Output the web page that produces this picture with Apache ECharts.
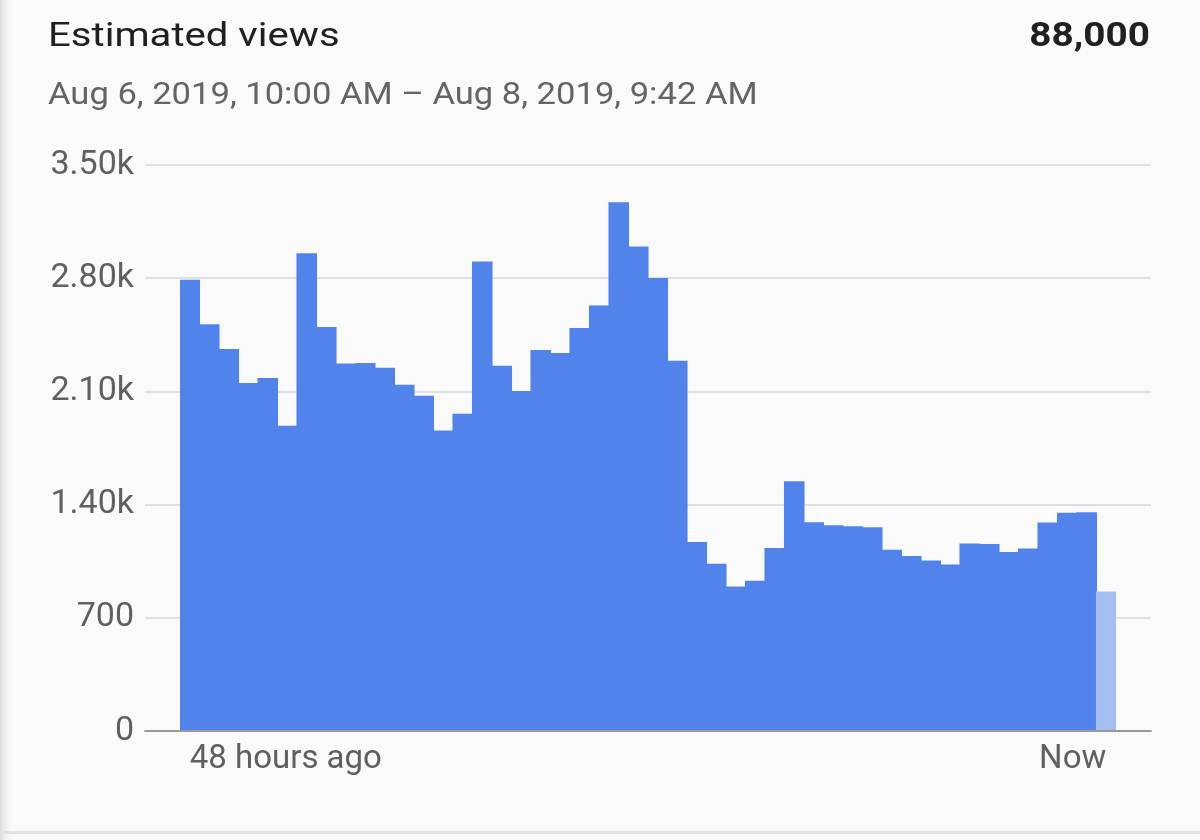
<!DOCTYPE html>
<html>
<head>
<meta charset="utf-8">
<script src="https://cdn.jsdelivr.net/npm/echarts@6/dist/echarts.min.js"></script>
<style>
  html, body { margin: 0; padding: 0; background: #fafafa; }
  #chart { width: 1200px; height: 840px; }
</style>
</head>
<body>
<div id="chart"></div>
<script>
// ---- data ----
const titleText = 'Estimated views';
const totalText = '88,000';
const rangeText = 'Aug 6, 2019, 10:00 AM \u2013 Aug 8, 2019, 9:42 AM';

// hourly views, oldest (48 hours ago) to newest (Now); last hour is partial
const views = [
  2790, 2515, 2362, 2152, 2183, 1887, 2955, 2499, 2272, 2276,
  2247, 2141, 2073, 1858, 1962, 2904, 2259, 2102, 2356, 2337,
  2492, 2631, 3269, 2996, 2802, 2289, 1169, 1035, 894, 929,
  1132, 1545, 1291, 1272, 1266, 1260, 1121, 1082, 1055, 1030,
  1160, 1156, 1107, 1129, 1289, 1350, 1352, 863
];
const partialIndex = views.length - 1;

const yTicks = [0, 700, 1400, 2100, 2800, 3500];
const yTickLabels = ['0', '700', '1.40k', '2.10k', '2.80k', '3.50k'];
const xTickLabels = ['48 hours ago', 'Now'];

// ---- chart ----
const BAR = '#5283ea';
const BAR_PARTIAL = '#a5bff2';
const categories = views.map((v, i) => String(i));
const xAxisData = categories.map((c, i) => {
  if (i === 0) return { value: c, textStyle: { align: 'left' } };
  if (i === views.length - 1) return { value: c, textStyle: { align: 'right' } };
  return c;
});

const chart = echarts.init(document.getElementById('chart'), null, { renderer: 'canvas' });
const FONT = 'Roboto, "Noto Sans", sans-serif';

const option = {
  backgroundColor: '#fafafa',
  animation: false,
  textStyle: { fontFamily: FONT },
  graphic: [
    { type: 'rect', x: 0, y: 0, shape: { width: 14, height: 840 }, silent: true,
      style: { fill: new echarts.graphic.LinearGradient(0, 0, 1, 0, [
        { offset: 0, color: '#dcdcdc' }, { offset: 1, color: 'rgba(250,250,250,0)' }]) } },
    { type: 'rect', x: 0, y: 831, shape: { width: 1200, height: 3 }, silent: true,
      style: { fill: '#e2e2e2' } },
    { type: 'text', x: 48, y: 20, scaleX: 1.18, silent: true,
      style: { text: titleText, x: 0, y: 0, align: 'left', verticalAlign: 'top',
        font: '34px ' + FONT, fill: '#202020' } },
    { type: 'text', x: 1150, y: 20, scaleX: 1.14, silent: true,
      style: { text: totalText, x: 0, y: 0, align: 'right', verticalAlign: 'top',
        font: 'bold 34px ' + FONT, fill: '#202020' } },
    { type: 'text', x: 48, y: 80, scaleX: 1.08, silent: true,
      style: { text: rangeText, x: 0, y: 0, align: 'left', verticalAlign: 'top',
        font: '32px ' + FONT, fill: '#646464' } }
  ],
  grid: [
    { left: 145, right: 49, top: 165, bottom: 109 },
    { left: 180, right: 84, top: 165, bottom: 109 }
  ],
  xAxis: [
    { gridIndex: 0, type: 'value', min: 0, max: 1, show: true,
      axisLabel: { show: false }, axisTick: { show: false }, splitLine: { show: false },
      axisLine: { show: true, lineStyle: { color: '#9a9a9a', width: 2 } }, z: 10 },
    { gridIndex: 1, type: 'category', data: xAxisData, boundaryGap: true,
      axisLine: { show: false }, axisTick: { show: false },
      axisLabel: {
        interval: 0, margin: 12, fontSize: 33, color: '#606060', fontFamily: FONT,
        formatter: (v, i) => i === 0 ? xTickLabels[0] : (i === views.length - 1 ? xTickLabels[1] : '')
      } }
  ],
  yAxis: [
    { gridIndex: 0, type: 'value', min: 0, max: 3500, interval: 700,
      axisLine: { show: false }, axisTick: { show: false },
      axisLabel: { margin: 11, fontSize: 34, color: '#606060', fontFamily: FONT,
        formatter: v => yTickLabels[yTicks.indexOf(v)] },
      splitLine: { lineStyle: { color: '#e0e0e0', width: 2 } } },
    { gridIndex: 1, type: 'value', min: 0, max: 3500, interval: 700, show: false,
      splitLine: { show: false } }
  ],
  series: [{
    type: 'bar', xAxisIndex: 1, yAxisIndex: 1,
    barWidth: 20.6,
    data: views.map((v, i) => i === partialIndex
      ? { value: v, itemStyle: { color: BAR_PARTIAL } }
      : v),
    itemStyle: { color: BAR, borderWidth: 0 },
    z: 5
  }]
};
chart.setOption(option);
</script>
</body>
</html>
